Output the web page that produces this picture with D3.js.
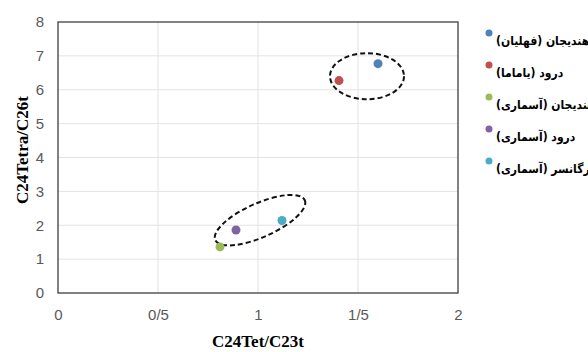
<!DOCTYPE html>
<html>
<head>
<meta charset="utf-8">
<script src="https://cdn.jsdelivr.net/npm/d3@7"></script>
<style>
  body { margin: 0; background: #fff; }
  svg { display: block; }
</style>
</head>
<body>
<script>
// series names (legend, Persian) and colours
const names = [
  "هندیجان (فهلیان)",
  "درود (یاماما)",
  "هندیجان (آسماری)",
  "درود (آسماری)",
  "بهرگانسر (آسماری)",
];
const colors = ["#4f81bd", "#c0504d", "#9bbb59", "#8064a2", "#4bacc6"];
// C24Tet/C23t and C24Tetra/C26t per sample
const xVals = [1.6, 1.405, 0.81, 0.89, 1.12];
const yVals = [6.77, 6.27, 1.36, 1.86, 2.14];
const xTicks = [0, 0.5, 1, 1.5, 2];
const xTickLabels = ["0", "0/5", "1", "1/5", "2"];
const yTicks = [0, 1, 2, 3, 4, 5, 6, 7, 8];
// dashed ellipses around the two groups (centre x, centre y, rx, ry in data units, angle)
const groupCx = [1.545, 1.01];
const groupCy = [6.4, 2.15];
const groupRx = [0.185, 0.245];
const groupRy = [0.68, 0.5];
const groupAngle = [0, -24];

const W = 588, H = 352;
const margin = { top: 22, right: 130, bottom: 60, left: 58 };
const width = 400, height = 271;

const svg = d3.select("body").append("svg")
  .attr("width", W).attr("height", H);

const x = d3.scaleLinear().domain([0, 2]).range([0, width]);
const y = d3.scaleLinear().domain([0, 8]).range([height, 0]);

const g = svg.append("g")
  .attr("transform", `translate(${margin.left},${margin.top})`);

// gridlines
g.append("g").selectAll("line.h")
  .data(yTicks.slice(1, -1))
  .enter().append("line")
  .attr("x1", 0).attr("x2", width)
  .attr("y1", d => y(d)).attr("y2", d => y(d))
  .attr("stroke", "#e3e3e3").attr("stroke-width", 1);
g.append("g").selectAll("line.v")
  .data(xTicks.slice(1, -1))
  .enter().append("line")
  .attr("y1", 0).attr("y2", height)
  .attr("x1", d => x(d)).attr("x2", d => x(d))
  .attr("stroke", "#e3e3e3").attr("stroke-width", 1);

// plot border
g.append("rect")
  .attr("width", width).attr("height", height)
  .attr("fill", "none").attr("stroke", "#404040").attr("stroke-width", 1.3);

// axes (labels only)
const xAxis = d3.axisBottom(x).tickValues(xTicks)
  .tickFormat((d, i) => xTickLabels[i]).tickSize(0).tickPadding(16);
g.append("g").attr("transform", `translate(0,${height})`).call(xAxis)
  .call(a => a.select(".domain").remove())
  .selectAll("text")
  .attr("font-family", "Liberation Sans, Arial, sans-serif")
  .attr("font-size", 15).attr("fill", "#595959");

const yAxis = d3.axisLeft(y).tickValues(yTicks).tickSize(0).tickPadding(14);
g.append("g").call(yAxis)
  .call(a => a.select(".domain").remove())
  .selectAll("text")
  .attr("font-family", "Liberation Sans, Arial, sans-serif")
  .attr("font-size", 15).attr("fill", "#595959");

// group ellipses
g.append("g").selectAll("ellipse")
  .data(groupCx)
  .enter().append("ellipse")
  .attr("transform", (d, i) =>
    `translate(${x(d)},${y(groupCy[i])}) rotate(${groupAngle[i]})`)
  .attr("rx", (d, i) => x(groupRx[i]) - x(0))
  .attr("ry", (d, i) => y(0) - y(groupRy[i]))
  .attr("fill", "none").attr("stroke", "#111")
  .attr("stroke-width", 2).attr("stroke-dasharray", "5,3");

// points
g.append("g").selectAll("circle")
  .data(xVals)
  .enter().append("circle")
  .attr("cx", d => x(d))
  .attr("cy", (d, i) => y(yVals[i]))
  .attr("r", 4.5)
  .attr("fill", (d, i) => colors[i]);

// axis titles
svg.append("text")
  .attr("x", margin.left + width / 2).attr("y", 347)
  .attr("text-anchor", "middle")
  .attr("font-family", "Liberation Serif, Times New Roman, serif")
  .attr("font-weight", "bold").attr("font-size", 17)
  .text("C24Tet/C23t");
svg.append("text")
  .attr("transform", "translate(28,150) rotate(-90)")
  .attr("text-anchor", "middle")
  .attr("font-family", "Liberation Serif, Times New Roman, serif")
  .attr("font-weight", "bold").attr("font-size", 17)
  .text("C24Tetra/C26t");

// legend
const legend = svg.append("g").attr("transform", "translate(489,33)");
const item = legend.selectAll("g")
  .data(names)
  .enter().append("g")
  .attr("transform", (d, i) => `translate(0,${i * 32})`);
item.append("circle").attr("r", 3.5).attr("fill", (d, i) => colors[i]);
item.append("text")
  .attr("x", 7).attr("y", 12)
  .attr("direction", "rtl")
  .attr("text-anchor", "end")
  .attr("font-family", "DejaVu Sans Condensed, DejaVu Sans, sans-serif")
  .attr("font-stretch", "condensed")
  .attr("font-weight", "bold").attr("font-size", 12)
  .text(d => d);
</script>
</body>
</html>
